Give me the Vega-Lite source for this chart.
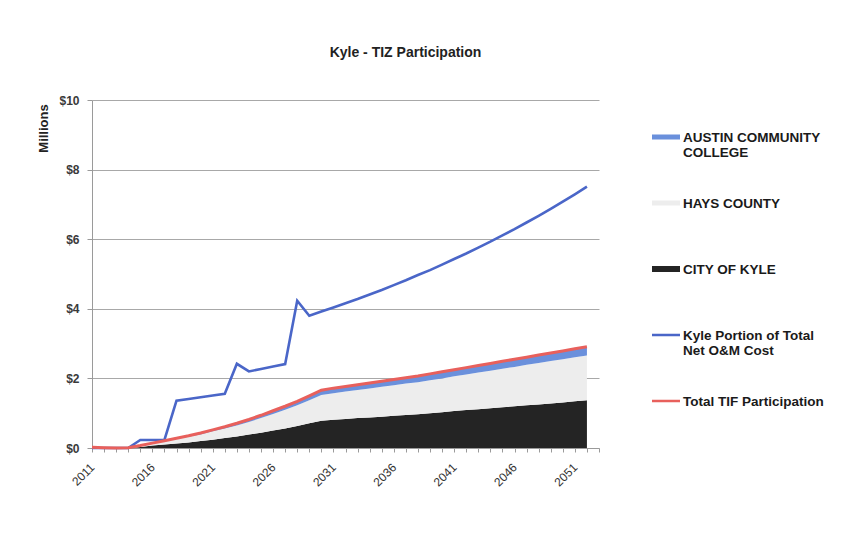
{
  "$schema": "https://vega.github.io/schema/vega-lite/v6.json",
  "autosize": "none",
  "width": 507,
  "height": 348,
  "padding": {"left": 92, "top": 100, "right": 252, "bottom": 109},
  "background": "white",
  "title": {
    "text": "Kyle - TIZ Participation",
    "font": "Liberation Sans",
    "fontSize": 14,
    "fontWeight": "bold",
    "color": "#222222",
    "anchor": "middle",
    "dx": 60,
    "offset": 34
  },
  "config": {
    "view": {"stroke": null},
    "font": "Liberation Sans"
  },
  "datasets": {
    "stack": [
      {"year": 2014, "series": "CITY OF KYLE", "value": 0, "k": 1},
      {"year": 2014, "series": "HAYS COUNTY", "value": 0, "k": 2},
      {"year": 2014, "series": "AUSTIN COMMUNITY COLLEGE", "value": 0, "k": 3},
      {"year": 2015, "series": "CITY OF KYLE", "value": 0.03, "k": 1},
      {"year": 2015, "series": "HAYS COUNTY", "value": 0.03, "k": 2},
      {"year": 2015, "series": "AUSTIN COMMUNITY COLLEGE", "value": 0.01, "k": 3},
      {"year": 2016, "series": "CITY OF KYLE", "value": 0.07, "k": 1},
      {"year": 2016, "series": "HAYS COUNTY", "value": 0.06, "k": 2},
      {"year": 2016, "series": "AUSTIN COMMUNITY COLLEGE", "value": 0.01, "k": 3},
      {"year": 2017, "series": "CITY OF KYLE", "value": 0.10, "k": 1},
      {"year": 2017, "series": "HAYS COUNTY", "value": 0.09, "k": 2},
      {"year": 2017, "series": "AUSTIN COMMUNITY COLLEGE", "value": 0.02, "k": 3},
      {"year": 2018, "series": "CITY OF KYLE", "value": 0.13, "k": 1},
      {"year": 2018, "series": "HAYS COUNTY", "value": 0.13, "k": 2},
      {"year": 2018, "series": "AUSTIN COMMUNITY COLLEGE", "value": 0.02, "k": 3},
      {"year": 2019, "series": "CITY OF KYLE", "value": 0.16, "k": 1},
      {"year": 2019, "series": "HAYS COUNTY", "value": 0.16, "k": 2},
      {"year": 2019, "series": "AUSTIN COMMUNITY COLLEGE", "value": 0.03, "k": 3},
      {"year": 2020, "series": "CITY OF KYLE", "value": 0.20, "k": 1},
      {"year": 2020, "series": "HAYS COUNTY", "value": 0.19, "k": 2},
      {"year": 2020, "series": "AUSTIN COMMUNITY COLLEGE", "value": 0.04, "k": 3},
      {"year": 2021, "series": "CITY OF KYLE", "value": 0.24, "k": 1},
      {"year": 2021, "series": "HAYS COUNTY", "value": 0.24, "k": 2},
      {"year": 2021, "series": "AUSTIN COMMUNITY COLLEGE", "value": 0.04, "k": 3},
      {"year": 2022, "series": "CITY OF KYLE", "value": 0.29, "k": 1},
      {"year": 2022, "series": "HAYS COUNTY", "value": 0.27, "k": 2},
      {"year": 2022, "series": "AUSTIN COMMUNITY COLLEGE", "value": 0.05, "k": 3},
      {"year": 2023, "series": "CITY OF KYLE", "value": 0.33, "k": 1},
      {"year": 2023, "series": "HAYS COUNTY", "value": 0.32, "k": 2},
      {"year": 2023, "series": "AUSTIN COMMUNITY COLLEGE", "value": 0.06, "k": 3},
      {"year": 2024, "series": "CITY OF KYLE", "value": 0.39, "k": 1},
      {"year": 2024, "series": "HAYS COUNTY", "value": 0.36, "k": 2},
      {"year": 2024, "series": "AUSTIN COMMUNITY COLLEGE", "value": 0.07, "k": 3},
      {"year": 2025, "series": "CITY OF KYLE", "value": 0.44, "k": 1},
      {"year": 2025, "series": "HAYS COUNTY", "value": 0.42, "k": 2},
      {"year": 2025, "series": "AUSTIN COMMUNITY COLLEGE", "value": 0.08, "k": 3},
      {"year": 2026, "series": "CITY OF KYLE", "value": 0.50, "k": 1},
      {"year": 2026, "series": "HAYS COUNTY", "value": 0.48, "k": 2},
      {"year": 2026, "series": "AUSTIN COMMUNITY COLLEGE", "value": 0.09, "k": 3},
      {"year": 2027, "series": "CITY OF KYLE", "value": 0.56, "k": 1},
      {"year": 2027, "series": "HAYS COUNTY", "value": 0.54, "k": 2},
      {"year": 2027, "series": "AUSTIN COMMUNITY COLLEGE", "value": 0.10, "k": 3},
      {"year": 2028, "series": "CITY OF KYLE", "value": 0.63, "k": 1},
      {"year": 2028, "series": "HAYS COUNTY", "value": 0.60, "k": 2},
      {"year": 2028, "series": "AUSTIN COMMUNITY COLLEGE", "value": 0.11, "k": 3},
      {"year": 2029, "series": "CITY OF KYLE", "value": 0.71, "k": 1},
      {"year": 2029, "series": "HAYS COUNTY", "value": 0.66, "k": 2},
      {"year": 2029, "series": "AUSTIN COMMUNITY COLLEGE", "value": 0.13, "k": 3},
      {"year": 2030, "series": "CITY OF KYLE", "value": 0.78, "k": 1},
      {"year": 2030, "series": "HAYS COUNTY", "value": 0.74, "k": 2},
      {"year": 2030, "series": "AUSTIN COMMUNITY COLLEGE", "value": 0.14, "k": 3},
      {"year": 2031, "series": "CITY OF KYLE", "value": 0.81, "k": 1},
      {"year": 2031, "series": "HAYS COUNTY", "value": 0.76, "k": 2},
      {"year": 2031, "series": "AUSTIN COMMUNITY COLLEGE", "value": 0.15, "k": 3},
      {"year": 2032, "series": "CITY OF KYLE", "value": 0.83, "k": 1},
      {"year": 2032, "series": "HAYS COUNTY", "value": 0.79, "k": 2},
      {"year": 2032, "series": "AUSTIN COMMUNITY COLLEGE", "value": 0.15, "k": 3},
      {"year": 2033, "series": "CITY OF KYLE", "value": 0.86, "k": 1},
      {"year": 2033, "series": "HAYS COUNTY", "value": 0.81, "k": 2},
      {"year": 2033, "series": "AUSTIN COMMUNITY COLLEGE", "value": 0.15, "k": 3},
      {"year": 2034, "series": "CITY OF KYLE", "value": 0.88, "k": 1},
      {"year": 2034, "series": "HAYS COUNTY", "value": 0.83, "k": 2},
      {"year": 2034, "series": "AUSTIN COMMUNITY COLLEGE", "value": 0.16, "k": 3},
      {"year": 2035, "series": "CITY OF KYLE", "value": 0.90, "k": 1},
      {"year": 2035, "series": "HAYS COUNTY", "value": 0.86, "k": 2},
      {"year": 2035, "series": "AUSTIN COMMUNITY COLLEGE", "value": 0.16, "k": 3},
      {"year": 2036, "series": "CITY OF KYLE", "value": 0.93, "k": 1},
      {"year": 2036, "series": "HAYS COUNTY", "value": 0.87, "k": 2},
      {"year": 2036, "series": "AUSTIN COMMUNITY COLLEGE", "value": 0.17, "k": 3},
      {"year": 2037, "series": "CITY OF KYLE", "value": 0.95, "k": 1},
      {"year": 2037, "series": "HAYS COUNTY", "value": 0.90, "k": 2},
      {"year": 2037, "series": "AUSTIN COMMUNITY COLLEGE", "value": 0.17, "k": 3},
      {"year": 2038, "series": "CITY OF KYLE", "value": 0.97, "k": 1},
      {"year": 2038, "series": "HAYS COUNTY", "value": 0.92, "k": 2},
      {"year": 2038, "series": "AUSTIN COMMUNITY COLLEGE", "value": 0.18, "k": 3},
      {"year": 2039, "series": "CITY OF KYLE", "value": 1.00, "k": 1},
      {"year": 2039, "series": "HAYS COUNTY", "value": 0.95, "k": 2},
      {"year": 2039, "series": "AUSTIN COMMUNITY COLLEGE", "value": 0.18, "k": 3},
      {"year": 2040, "series": "CITY OF KYLE", "value": 1.03, "k": 1},
      {"year": 2040, "series": "HAYS COUNTY", "value": 0.97, "k": 2},
      {"year": 2040, "series": "AUSTIN COMMUNITY COLLEGE", "value": 0.19, "k": 3},
      {"year": 2041, "series": "CITY OF KYLE", "value": 1.06, "k": 1},
      {"year": 2041, "series": "HAYS COUNTY", "value": 1.00, "k": 2},
      {"year": 2041, "series": "AUSTIN COMMUNITY COLLEGE", "value": 0.19, "k": 3},
      {"year": 2042, "series": "CITY OF KYLE", "value": 1.09, "k": 1},
      {"year": 2042, "series": "HAYS COUNTY", "value": 1.02, "k": 2},
      {"year": 2042, "series": "AUSTIN COMMUNITY COLLEGE", "value": 0.20, "k": 3},
      {"year": 2043, "series": "CITY OF KYLE", "value": 1.11, "k": 1},
      {"year": 2043, "series": "HAYS COUNTY", "value": 1.06, "k": 2},
      {"year": 2043, "series": "AUSTIN COMMUNITY COLLEGE", "value": 0.20, "k": 3},
      {"year": 2044, "series": "CITY OF KYLE", "value": 1.14, "k": 1},
      {"year": 2044, "series": "HAYS COUNTY", "value": 1.08, "k": 2},
      {"year": 2044, "series": "AUSTIN COMMUNITY COLLEGE", "value": 0.21, "k": 3},
      {"year": 2045, "series": "CITY OF KYLE", "value": 1.17, "k": 1},
      {"year": 2045, "series": "HAYS COUNTY", "value": 1.11, "k": 2},
      {"year": 2045, "series": "AUSTIN COMMUNITY COLLEGE", "value": 0.21, "k": 3},
      {"year": 2046, "series": "CITY OF KYLE", "value": 1.20, "k": 1},
      {"year": 2046, "series": "HAYS COUNTY", "value": 1.13, "k": 2},
      {"year": 2046, "series": "AUSTIN COMMUNITY COLLEGE", "value": 0.22, "k": 3},
      {"year": 2047, "series": "CITY OF KYLE", "value": 1.23, "k": 1},
      {"year": 2047, "series": "HAYS COUNTY", "value": 1.16, "k": 2},
      {"year": 2047, "series": "AUSTIN COMMUNITY COLLEGE", "value": 0.22, "k": 3},
      {"year": 2048, "series": "CITY OF KYLE", "value": 1.25, "k": 1},
      {"year": 2048, "series": "HAYS COUNTY", "value": 1.19, "k": 2},
      {"year": 2048, "series": "AUSTIN COMMUNITY COLLEGE", "value": 0.23, "k": 3},
      {"year": 2049, "series": "CITY OF KYLE", "value": 1.28, "k": 1},
      {"year": 2049, "series": "HAYS COUNTY", "value": 1.22, "k": 2},
      {"year": 2049, "series": "AUSTIN COMMUNITY COLLEGE", "value": 0.23, "k": 3},
      {"year": 2050, "series": "CITY OF KYLE", "value": 1.31, "k": 1},
      {"year": 2050, "series": "HAYS COUNTY", "value": 1.24, "k": 2},
      {"year": 2050, "series": "AUSTIN COMMUNITY COLLEGE", "value": 0.24, "k": 3},
      {"year": 2051, "series": "CITY OF KYLE", "value": 1.34, "k": 1},
      {"year": 2051, "series": "HAYS COUNTY", "value": 1.27, "k": 2},
      {"year": 2051, "series": "AUSTIN COMMUNITY COLLEGE", "value": 0.24, "k": 3},
      {"year": 2052, "series": "CITY OF KYLE", "value": 1.37, "k": 1},
      {"year": 2052, "series": "HAYS COUNTY", "value": 1.29, "k": 2},
      {"year": 2052, "series": "AUSTIN COMMUNITY COLLEGE", "value": 0.25, "k": 3}
    ],
    "lines": [
      {"year": 2011, "series": "Kyle Portion of Total Net O&M Cost", "value": 0},
      {"year": 2012, "series": "Kyle Portion of Total Net O&M Cost", "value": 0},
      {"year": 2013, "series": "Kyle Portion of Total Net O&M Cost", "value": 0},
      {"year": 2014, "series": "Kyle Portion of Total Net O&M Cost", "value": 0},
      {"year": 2015, "series": "Kyle Portion of Total Net O&M Cost", "value": 0.23},
      {"year": 2016, "series": "Kyle Portion of Total Net O&M Cost", "value": 0.23},
      {"year": 2017, "series": "Kyle Portion of Total Net O&M Cost", "value": 0.23},
      {"year": 2018, "series": "Kyle Portion of Total Net O&M Cost", "value": 1.36},
      {"year": 2019, "series": "Kyle Portion of Total Net O&M Cost", "value": 1.41},
      {"year": 2020, "series": "Kyle Portion of Total Net O&M Cost", "value": 1.46},
      {"year": 2021, "series": "Kyle Portion of Total Net O&M Cost", "value": 1.51},
      {"year": 2022, "series": "Kyle Portion of Total Net O&M Cost", "value": 1.56},
      {"year": 2023, "series": "Kyle Portion of Total Net O&M Cost", "value": 2.42},
      {"year": 2024, "series": "Kyle Portion of Total Net O&M Cost", "value": 2.20},
      {"year": 2025, "series": "Kyle Portion of Total Net O&M Cost", "value": 2.27},
      {"year": 2026, "series": "Kyle Portion of Total Net O&M Cost", "value": 2.34},
      {"year": 2027, "series": "Kyle Portion of Total Net O&M Cost", "value": 2.41},
      {"year": 2028, "series": "Kyle Portion of Total Net O&M Cost", "value": 4.23},
      {"year": 2029, "series": "Kyle Portion of Total Net O&M Cost", "value": 3.80},
      {"year": 2030, "series": "Kyle Portion of Total Net O&M Cost", "value": 3.92},
      {"year": 2031, "series": "Kyle Portion of Total Net O&M Cost", "value": 4.04},
      {"year": 2032, "series": "Kyle Portion of Total Net O&M Cost", "value": 4.16},
      {"year": 2033, "series": "Kyle Portion of Total Net O&M Cost", "value": 4.28},
      {"year": 2034, "series": "Kyle Portion of Total Net O&M Cost", "value": 4.41},
      {"year": 2035, "series": "Kyle Portion of Total Net O&M Cost", "value": 4.54},
      {"year": 2036, "series": "Kyle Portion of Total Net O&M Cost", "value": 4.68},
      {"year": 2037, "series": "Kyle Portion of Total Net O&M Cost", "value": 4.82},
      {"year": 2038, "series": "Kyle Portion of Total Net O&M Cost", "value": 4.97},
      {"year": 2039, "series": "Kyle Portion of Total Net O&M Cost", "value": 5.11},
      {"year": 2040, "series": "Kyle Portion of Total Net O&M Cost", "value": 5.27},
      {"year": 2041, "series": "Kyle Portion of Total Net O&M Cost", "value": 5.43},
      {"year": 2042, "series": "Kyle Portion of Total Net O&M Cost", "value": 5.59},
      {"year": 2043, "series": "Kyle Portion of Total Net O&M Cost", "value": 5.76},
      {"year": 2044, "series": "Kyle Portion of Total Net O&M Cost", "value": 5.93},
      {"year": 2045, "series": "Kyle Portion of Total Net O&M Cost", "value": 6.11},
      {"year": 2046, "series": "Kyle Portion of Total Net O&M Cost", "value": 6.29},
      {"year": 2047, "series": "Kyle Portion of Total Net O&M Cost", "value": 6.48},
      {"year": 2048, "series": "Kyle Portion of Total Net O&M Cost", "value": 6.67},
      {"year": 2049, "series": "Kyle Portion of Total Net O&M Cost", "value": 6.87},
      {"year": 2050, "series": "Kyle Portion of Total Net O&M Cost", "value": 7.08},
      {"year": 2051, "series": "Kyle Portion of Total Net O&M Cost", "value": 7.29},
      {"year": 2052, "series": "Kyle Portion of Total Net O&M Cost", "value": 7.51},
      {"year": 2011, "series": "Total TIF Participation", "value": 0.02},
      {"year": 2012, "series": "Total TIF Participation", "value": 0.01},
      {"year": 2013, "series": "Total TIF Participation", "value": 0.00},
      {"year": 2014, "series": "Total TIF Participation", "value": 0.01},
      {"year": 2015, "series": "Total TIF Participation", "value": 0.07},
      {"year": 2016, "series": "Total TIF Participation", "value": 0.14},
      {"year": 2017, "series": "Total TIF Participation", "value": 0.21},
      {"year": 2018, "series": "Total TIF Participation", "value": 0.28},
      {"year": 2019, "series": "Total TIF Participation", "value": 0.35},
      {"year": 2020, "series": "Total TIF Participation", "value": 0.43},
      {"year": 2021, "series": "Total TIF Participation", "value": 0.52},
      {"year": 2022, "series": "Total TIF Participation", "value": 0.61},
      {"year": 2023, "series": "Total TIF Participation", "value": 0.71},
      {"year": 2024, "series": "Total TIF Participation", "value": 0.82},
      {"year": 2025, "series": "Total TIF Participation", "value": 0.94},
      {"year": 2026, "series": "Total TIF Participation", "value": 1.07},
      {"year": 2027, "series": "Total TIF Participation", "value": 1.20},
      {"year": 2028, "series": "Total TIF Participation", "value": 1.34},
      {"year": 2029, "series": "Total TIF Participation", "value": 1.50},
      {"year": 2030, "series": "Total TIF Participation", "value": 1.66},
      {"year": 2031, "series": "Total TIF Participation", "value": 1.72},
      {"year": 2032, "series": "Total TIF Participation", "value": 1.77},
      {"year": 2033, "series": "Total TIF Participation", "value": 1.82},
      {"year": 2034, "series": "Total TIF Participation", "value": 1.87},
      {"year": 2035, "series": "Total TIF Participation", "value": 1.92},
      {"year": 2036, "series": "Total TIF Participation", "value": 1.97},
      {"year": 2037, "series": "Total TIF Participation", "value": 2.02},
      {"year": 2038, "series": "Total TIF Participation", "value": 2.07},
      {"year": 2039, "series": "Total TIF Participation", "value": 2.13},
      {"year": 2040, "series": "Total TIF Participation", "value": 2.19},
      {"year": 2041, "series": "Total TIF Participation", "value": 2.25},
      {"year": 2042, "series": "Total TIF Participation", "value": 2.31},
      {"year": 2043, "series": "Total TIF Participation", "value": 2.37},
      {"year": 2044, "series": "Total TIF Participation", "value": 2.43},
      {"year": 2045, "series": "Total TIF Participation", "value": 2.49},
      {"year": 2046, "series": "Total TIF Participation", "value": 2.55},
      {"year": 2047, "series": "Total TIF Participation", "value": 2.61},
      {"year": 2048, "series": "Total TIF Participation", "value": 2.67},
      {"year": 2049, "series": "Total TIF Participation", "value": 2.73},
      {"year": 2050, "series": "Total TIF Participation", "value": 2.79},
      {"year": 2051, "series": "Total TIF Participation", "value": 2.85},
      {"year": 2052, "series": "Total TIF Participation", "value": 2.91}
    ]
  },
  "encoding": {
    "x": {
      "field": "year",
      "type": "quantitative",
      "scale": {"domain": [2011, 2053], "nice": false, "zero": false},
      "axis": {
        "title": null,
        "values": [2011, 2012, 2013, 2014, 2015, 2016, 2017, 2018, 2019, 2020, 2021, 2022, 2023, 2024, 2025, 2026, 2027, 2028, 2029, 2030, 2031, 2032, 2033, 2034, 2035, 2036, 2037, 2038, 2039, 2040, 2041, 2042, 2043, 2044, 2045, 2046, 2047, 2048, 2049, 2050, 2051, 2052, 2053],
        "labelExpr": "(datum.value - 2011) % 5 === 0 && datum.value < 2053 ? datum.value : ''",
        "labelAngle": -45,
        "labelAlign": "right",
        "labelBaseline": "middle",
        "labelPadding": 13,
        "labelFont": "Liberation Sans",
        "labelFontSize": 12,
        "labelColor": "#333333",
        "labelOverlap": false,
        "labelFlush": false,
        "labelBound": false,
        "tickSize": 4,
        "tickColor": "#9a9a9a",
        "domainColor": "#9a9a9a",
        "grid": false
      }
    },
    "y": {
      "field": "value",
      "type": "quantitative",
      "scale": {"domain": [0, 10], "nice": false}
    }
  },
  "layer": [
    {
      "data": {"name": "stack"},
      "mark": {"type": "area", "interpolate": "linear"},
      "encoding": {
        "y": {
          "field": "value",
          "type": "quantitative",
          "aggregate": "sum",
          "stack": "zero",
          "scale": {"domain": [0, 10], "nice": false},
          "axis": {
            "title": "Millions",
            "values": [0, 2, 4, 6, 8, 10],
            "format": "$.0f",
            "grid": true,
            "gridColor": "#a8a8a8",
            "domainColor": "#9a9a9a",
            "tickColor": "#9a9a9a",
            "tickSize": 5,
            "labelFont": "Liberation Sans",
            "labelFontSize": 12,
            "labelFontWeight": "bold",
            "labelColor": "#3a3a3a",
            "labelPadding": 8,
            "titleFont": "Liberation Sans",
            "titleFontSize": 13,
            "titleFontWeight": "bold",
            "titleColor": "#222222",
            "titleAngle": -90,
            "titleAlign": "center",
            "titleBaseline": "middle",
            "titleX": -49,
            "titleY": 28
          }
        },
        "order": {"field": "k", "type": "quantitative", "sort": "ascending"},
        "color": {
          "field": "series",
          "type": "nominal",
          "scale": {
            "domain": ["AUSTIN COMMUNITY COLLEGE", "HAYS COUNTY", "CITY OF KYLE", "Kyle Portion of Total Net O&M Cost", "Total TIF Participation"],
            "range": ["#6a90dc", "#ededed", "#242424", "#4a66c8", "#e8605c"]
          },
          "legend": {
            "title": null,
            "orient": "none",
            "legendX": 560,
            "legendY": 12,
            "direction": "vertical",
            "padding": 0,
            "symbolType": "stroke",
            "symbolSize": 784,
            "symbolStrokeWidth": 3,
            "clipHeight": 50,
            "rowPadding": 16,
            "labelOffset": 3,
            "labelLimit": 220,
            "labelFont": "Liberation Sans",
            "labelFontSize": 13.5,
            "labelFontWeight": "bold",
            "labelColor": "#1a1a1a",
            "labelBaseline": "alphabetic",
            "labelExpr": "datum.label === 'AUSTIN COMMUNITY COLLEGE' ? ['AUSTIN COMMUNITY', 'COLLEGE'] : datum.label === 'Kyle Portion of Total Net O&M Cost' ? ['Kyle Portion of Total', 'Net O&M Cost'] : datum.label",
            "encode": {
              "symbols": {
                "update": {
                  "x": {"value": 14},
                  "size": {"value": 784},
                  "stroke": {"scale": "color", "field": "value"},
                  "strokeWidth": {"signal": "datum.value === 'CITY OF KYLE' ? 6 : (datum.value === 'AUSTIN COMMUNITY COLLEGE' || datum.value === 'HAYS COUNTY') ? 5 : 2.5"},
                  "opacity": {"value": 1}
                }
              },
              "labels": {
                "update": {
                  "x": {"value": 31},
                  "dy": {"value": 5},
                  "lineHeight": {"value": 15}
                }
              }
            }
          }
        }
      }
    },
    {
      "data": {"name": "lines"},
      "transform": [{"filter": {"field": "series", "equal": "Kyle Portion of Total Net O&M Cost"}}],
      "mark": {"type": "line", "strokeWidth": 2.6, "interpolate": "linear"},
      "encoding": {
        "color": {"field": "series", "type": "nominal"}
      }
    },
    {
      "data": {"name": "lines"},
      "transform": [{"filter": {"field": "series", "equal": "Total TIF Participation"}}],
      "mark": {"type": "line", "strokeWidth": 3, "interpolate": "linear"},
      "encoding": {
        "color": {"field": "series", "type": "nominal"}
      }
    }
  ]
}
